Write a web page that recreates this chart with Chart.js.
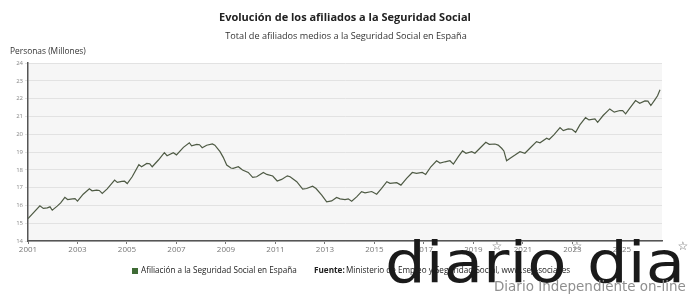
<!DOCTYPE html>
<html><head><meta charset="utf-8">
<script src="https://cdn.jsdelivr.net/npm/chart.js@4"></script>
<style>html,body{margin:0;padding:0;background:#fff;}</style>
</head><body>
<canvas id="c" width="690" height="296"></canvas>
<script>
// Fecha (año decimal) de cada punto
const fechas = [
2001.00,2001.48,2001.62,2001.78,2001.89,2001.98,2002.18,2002.32,2002.49,2002.60,2002.80,2002.90,
2003.00,2003.23,2003.48,2003.59,2003.77,2003.88,2004.00,2004.20,2004.50,2004.61,2004.79,2004.90,
2005.01,2005.21,2005.48,2005.59,2005.80,2005.92,2006.02,2006.27,2006.51,2006.62,2006.87,2007.00,
2007.28,2007.52,2007.61,2007.82,2007.93,2008.04,2008.22,2008.45,2008.55,2008.76,2008.89,2009.03,
2009.20,2009.29,2009.50,2009.67,2009.90,2010.08,2010.24,2010.51,2010.65,2010.89,2011.07,2011.25,
2011.48,2011.59,2011.86,2012.10,2012.26,2012.50,2012.64,2012.87,2013.07,2013.27,2013.47,2013.61,
2013.81,2013.94,2014.08,2014.28,2014.48,2014.62,2014.89,2015.09,2015.29,2015.50,2015.63,2015.90,
2016.07,2016.30,2016.53,2016.70,2016.93,2017.07,2017.28,2017.51,2017.65,2017.85,2018.05,2018.19,
2018.39,2018.56,2018.70,2018.93,2019.06,2019.26,2019.50,2019.64,2019.87,2020.00,2020.14,2020.23,
2020.34,2020.47,2020.68,2020.88,2021.08,2021.28,2021.55,2021.69,2021.96,2022.06,2022.25,2022.50,
2022.63,2022.83,2022.98,2023.13,2023.30,2023.53,2023.67,2023.91,2024.02,2024.24,2024.51,2024.69,
2024.92,2025.03,2025.15,2025.32,2025.55,2025.72,2025.93,2026.05,2026.17,2026.33,2026.44,2026.54
];
// Afiliados (millones de personas)
const afiliados = [
15.26,15.98,15.83,15.86,15.92,15.73,15.96,16.14,16.45,16.33,16.37,16.38,
16.24,16.63,16.93,16.82,16.86,16.84,16.67,16.93,17.42,17.29,17.35,17.36,
17.23,17.61,18.29,18.17,18.36,18.34,18.17,18.55,18.96,18.79,18.96,18.84,
19.26,19.52,19.35,19.43,19.41,19.24,19.38,19.45,19.38,19.02,18.70,18.27,
18.10,18.08,18.17,17.99,17.85,17.57,17.61,17.85,17.74,17.65,17.37,17.46,
17.66,17.61,17.33,16.91,16.95,17.08,16.95,16.58,16.20,16.25,16.45,16.37,
16.33,16.37,16.24,16.48,16.77,16.71,16.78,16.63,16.95,17.33,17.24,17.28,
17.14,17.52,17.85,17.80,17.85,17.74,18.17,18.51,18.38,18.45,18.51,18.32,
18.74,19.06,18.93,19.02,18.93,19.21,19.55,19.43,19.45,19.39,19.21,19.06,
18.51,18.64,18.83,19.02,18.93,19.21,19.58,19.52,19.77,19.70,19.96,20.37,
20.20,20.30,20.28,20.11,20.52,20.93,20.80,20.86,20.67,21.05,21.42,21.24,
21.33,21.32,21.14,21.46,21.89,21.74,21.87,21.86,21.61,21.93,22.16,22.50
];
const anosEtiquetas = [2001,2003,2005,2007,2009,2011,2013,2015,2017,2019,2021,2023,2025];
const serieNombre = 'Afiliación a la Seguridad Social en España';
const titulo = 'Evolución de los afiliados a la Seguridad Social';
const subtitulo = 'Total de afiliados medios a la Seguridad Social en España';
const ejeY = 'Personas (Millones)';
const fuente = 'Ministerio de Empleo y Seguridad Social, www.seg-social.es';
const marcaAgua = 'diario dia';
const marcaAgua2 = 'Diario Independiente on-line';

const FAM = '"Open Sans", "Liberation Sans", sans-serif';

function fitFont(ctx, text, weight, target, fam) {
  ctx.font = weight + ' 20px ' + fam;
  const w = ctx.measureText(text).width;
  const s = 20 * target / w;
  ctx.font = weight + ' ' + s.toFixed(2) + 'px ' + fam;
  return s;
}

const deco = {
  id: 'deco',
  beforeDraw(chart) {
    const {ctx, chartArea: a} = chart;
    ctx.save();
    ctx.fillStyle = '#fff';
    ctx.fillRect(0, 0, chart.width, chart.height);
    ctx.fillStyle = '#f6f6f6';
    ctx.fillRect(a.left, a.top, a.right - a.left, a.bottom - a.top);
    ctx.restore();
  },
  afterDraw(chart) {
    const ctx = chart.ctx;
    ctx.save();
    ctx.textBaseline = 'middle';
    ctx.fillStyle = '#222';
    ctx.textAlign = 'center';
    fitFont(ctx, titulo, 'bold', 252, FAM);
    ctx.fillText(titulo, 345, 18);
    ctx.fillStyle = '#333';
    fitFont(ctx, subtitulo, 'normal', 242, FAM);
    ctx.fillText(subtitulo, 346, 36);
    ctx.textAlign = 'left';
    fitFont(ctx, ejeY, 'normal', 76, FAM);
    ctx.fillText(ejeY, 10, 52);
    ctx.fillStyle = '#3f6b35';
    ctx.fillRect(132, 268, 6, 6);
    ctx.fillStyle = '#222';
    const ls = fitFont(ctx, serieNombre, 'normal', 156, FAM);
    ctx.fillText(serieNombre, 141, 271);
    ctx.font = 'bold ' + ls.toFixed(2) + 'px ' + FAM;
    ctx.fillText('Fuente:', 314, 271);
    ctx.font = 'normal ' + ls.toFixed(2) + 'px ' + FAM;
    ctx.fillText(fuente, 346, 271);
    ctx.fillStyle = '#666';
    ctx.textAlign = 'center';
    ctx.font = '12px "DejaVu Sans"';
    [497, 577, 683].forEach(x => ctx.fillText('☆', x, 247));
    // watermark
    ctx.textAlign = 'left';
    ctx.textBaseline = 'alphabetic';
    fitFont(ctx, marcaAgua, 'normal', 300, '"DejaVu Sans"');
    const m = ctx.measureText(marcaAgua);
    const sy = 44 / Math.max(20, m.actualBoundingBoxAscent || 44);
    ctx.translate(385, 282);
    ctx.scale(1, sy);
    ctx.fillStyle = '#1a1a1a';
    ctx.fillText(marcaAgua, 0, 0);
    ctx.setTransform(1, 0, 0, 1, 0, 0);
    ctx.textBaseline = 'middle';
    ctx.fillStyle = '#8f8f8f';
    fitFont(ctx, marcaAgua2, 'normal', 192, '"DejaVu Sans"');
    ctx.fillText(marcaAgua2, 494, 288);
    ctx.restore();
  }
};

new Chart(document.getElementById('c'), {
  type: 'line',
  data: {
    datasets: [{
      label: serieNombre,
      data: fechas.map((x, i) => ({x: x, y: afiliados[i]})),
      borderColor: '#4e5a44',
      borderWidth: 1.2,
      pointRadius: 0,
      tension: 0,
      fill: false
    }]
  },
  options: {
    responsive: false,
    animation: false,
    devicePixelRatio: 1,
    layout: {padding: {left: 0, top: 63, right: 28, bottom: 0}},
    plugins: {legend: {display: false}, title: {display: false}, tooltip: {enabled: false}},
    scales: {
      x: {
        type: 'linear',
        min: 2001,
        max: 2026.62,
        afterBuildTicks: s => { s.ticks = anosEtiquetas.map(v => ({value: v})); },
        afterFit: s => { s.height = 55; },
        ticks: {
          autoSkip: false, maxRotation: 0, padding: 1,
          color: '#777', font: {size: 8, family: FAM},
          callback: v => String(v)
        },
        grid: {display: true, drawOnChartArea: false, tickLength: 3, color: '#777'},
        border: {color: '#555', width: 1.5}
      },
      y: {
        min: 14, max: 24,
        afterFit: s => { s.width = 28; },
        ticks: {stepSize: 1, color: '#888', font: {size: 6, family: FAM}, padding: 2},
        grid: {color: '#e2e2e2', tickLength: 3},
        border: {color: '#555', width: 1.5}
      }
    }
  },
  plugins: [deco]
});
</script>
</body></html>
